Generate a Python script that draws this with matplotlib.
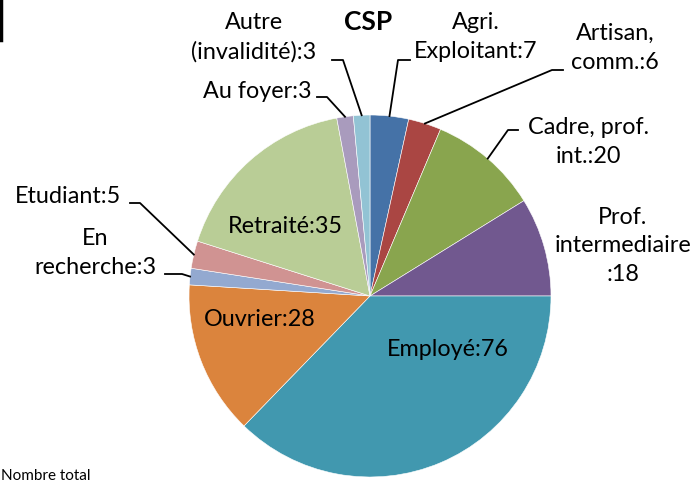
import numpy as np
import matplotlib.pyplot as plt

# CSP counts, clockwise from 12 o'clock
categories = ["Agri.\nExploitant", "Artisan,\ncomm.", "Cadre, prof.\nint.", "Prof.\nintermediaire\n",
              "Employé", "Ouvrier", "En\nrecherche", "Etudiant", "Retraité", "Au foyer",
              "Autre\n(invalidité)"]
values = [7, 6, 20, 18, 76, 28, 3, 5, 35, 3, 3]
colors = ["#4572A7", "#AA4643", "#89A54E", "#71588F", "#4198AF", "#DB843D",
          "#93A9D0", "#D09392", "#B9CD96", "#A99BBD", "#92C3D4"]

W, H = 700, 482
CX, CY, R = 370, 296, 181   # pie centre / radius in pixels


def px(x, y):
    # pixel position -> data coords of the pie axes
    return (x - CX) / R, (CY - y) / R


# label layout: text centre in pixels, and leader elbow/end (None = no leader)
layout = [
    ((476, 37), [(398, 60), (410, 60)]),
    ((615, 48), [(552, 70), (563, 70)]),
    ((588, 142), [(508, 130), (518, 130)]),
    ((623, 246), None),
    ((448, 350), "inside"),
    ((260, 320), "inside"),
    ((95, 253), [(182, 274), (165, 274)]),
    ((68, 197), [(140, 203), (130, 203)]),
    ((285, 227), "inside"),
    ((257, 92), [(327, 97), (317, 97)]),
    ((254, 37), [(343, 60), (332, 60)]),
]

plt.rcParams['font.family'] = ['Lato', 'DejaVu Sans']
fig = plt.figure(figsize=(7, 4.82), dpi=100)
ax = fig.add_axes([(CX - R) / W, (H - CY - R) / H, 2 * R / W, 2 * R / H])

wedges, _ = ax.pie(values, colors=colors, startangle=90, counterclock=False, radius=1,
                   wedgeprops=dict(edgecolor="white", linewidth=0.4))
ax.set_xlim(-1, 1)
ax.set_ylim(-1, 1)
ax.axis("off")

fs = 16.8
for w, cat, val, (pos, lead) in zip(wedges, categories, values, layout):
    tx, ty = px(*pos)
    label = f"{cat}:{val}"
    ax.text(tx, ty, label, ha="center", va="center", fontsize=fs, multialignment="center",
            linespacing=1.45, clip_on=False)
    if isinstance(lead, list):
        mid = np.deg2rad((w.theta1 + w.theta2) / 2)
        xs = [np.cos(mid)] + [px(*p)[0] for p in lead]
        ys = [np.sin(mid)] + [px(*p)[1] for p in lead]
        ax.plot(xs, ys, color="black", lw=1.3, clip_on=False)

fig.text(368 / W, 1 - 22 / H, "CSP", ha="center", va="center", fontsize=19, fontweight="bold")
fig.text(0.002, 1 - 476 / H, "Nombre total", ha="left", va="center", fontsize=11)
fig.add_artist(plt.Line2D([0.0015, 0.0015], [1, 1 - 40 / H], color="black", lw=2.5))

fig.savefig("out.png", dpi=100)
